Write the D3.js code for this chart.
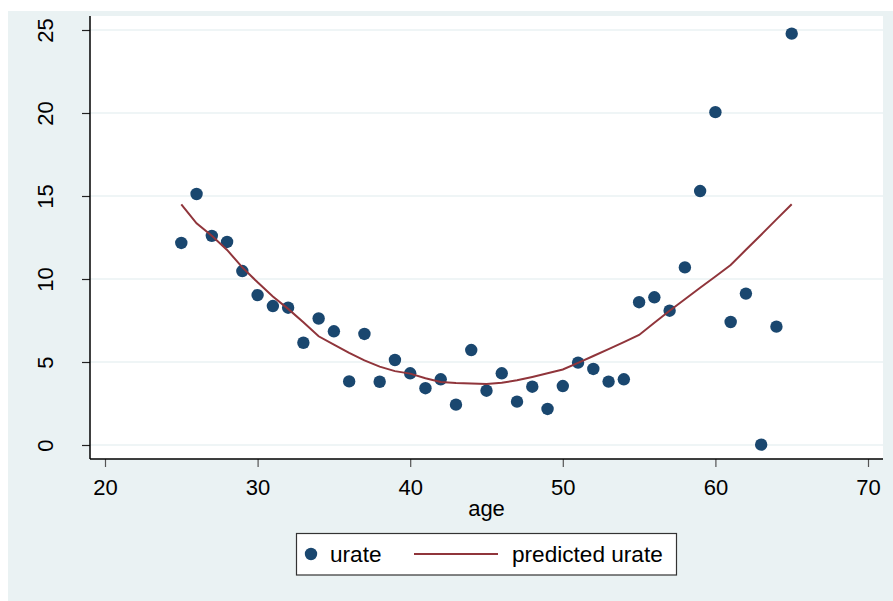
<!DOCTYPE html>
<html>
<head>
<meta charset="utf-8">
<script src="https://cdn.jsdelivr.net/npm/d3@7"></script>
<style>
  html, body { margin: 0; padding: 0; background: #ffffff; }
  svg { display: block; font-family: "Liberation Sans", Arial, sans-serif; }
</style>
</head>
<body>
<svg id="chart" width="893" height="601"></svg>
<script>
// Unemployment rate by age, with the fitted (predicted) rate
const ages = d3.range(25, 66);
const urate = [
  12.17, 15.12, 12.6, 12.23, 10.48, 9.03, 8.37, 8.27, 6.16, 7.62,
  6.85, 3.83, 6.69, 3.81, 5.12, 4.32, 3.42, 3.96, 2.43, 5.72,
  3.27, 4.32, 2.61, 3.51, 2.17, 3.55, 4.96, 4.58, 3.82, 3.96,
  8.6, 8.9, 8.09, 10.7, 15.3, 20.05, 7.41, 9.12, 0.02, 7.13,
  24.78
];
const predicted = [
  14.5, 13.35, 12.6, 11.75, 10.7, 9.8, 8.95, 8.2, 7.4, 6.55,
  6.05, 5.55, 5.1, 4.72, 4.45, 4.3, 4.02, 3.8, 3.73, 3.7,
  3.68, 3.75, 3.9, 4.1, 4.32, 4.55, 4.95, 5.36, 5.78, 6.2,
  6.63, 7.36, 8.09, 8.78, 9.47, 10.15, 10.84, 11.76, 12.67, 13.59,
  14.5
];
const xTicks = [20, 30, 40, 50, 60, 70];
const yTicks = [0, 5, 10, 15, 20, 25];

const svg = d3.select("#chart");
const navy = "#1a476f", maroon = "#90353b", bg = "#eaf2f3";

// graph region background
svg.append("rect").attr("x", 8).attr("y", 11).attr("width", 885).attr("height", 590).attr("fill", bg);

const plot = { left: 90, right: 883, top: 16, bottom: 459 };
svg.append("rect")
  .attr("x", plot.left).attr("y", plot.top)
  .attr("width", plot.right - plot.left).attr("height", plot.bottom - plot.top)
  .attr("fill", "#ffffff");

const x = d3.scaleLinear().domain([20, 70]).range([105, 868]);
const y = d3.scaleLinear().domain([0, 25]).range([445, 30]);

// horizontal grid
svg.append("g").selectAll("line").data(yTicks).join("line")
  .attr("x1", plot.left).attr("x2", plot.right)
  .attr("y1", d => y(d)).attr("y2", d => y(d))
  .attr("stroke", bg).attr("stroke-width", 1.6);

// y axis
const yAxis = svg.append("g").attr("transform", `translate(${plot.left},0)`)
  .call(d3.axisLeft(y).tickValues(yTicks).tickSize(8).tickFormat(d3.format("d")));
yAxis.select(".domain").remove();
yAxis.selectAll(".tick line").attr("stroke", "#222").attr("stroke-width", 1.2);
yAxis.selectAll(".tick text").remove();
yAxis.selectAll(".tick").append("text")
  .attr("transform", "translate(-45,0) rotate(-90)")
  .attr("text-anchor", "middle").attr("dy", "0.36em")
  .attr("fill", "#000").attr("font-size", 22)
  .attr("font-family", "Liberation Sans, Arial, sans-serif")
  .text(d => d);
svg.append("line").attr("x1", plot.left).attr("x2", plot.left)
  .attr("y1", plot.top).attr("y2", plot.bottom).attr("stroke", "#000").attr("stroke-width", 1.5);

// x axis
const xAxis = svg.append("g").attr("transform", `translate(0,${plot.bottom})`)
  .call(d3.axisBottom(x).tickValues(xTicks).tickSize(8).tickFormat(d3.format("d")));
xAxis.select(".domain").remove();
xAxis.selectAll(".tick line").attr("stroke", "#555").attr("stroke-width", 1.2);
xAxis.selectAll(".tick text").attr("y", 36).attr("dy", 0).attr("fill", "#000")
  .attr("font-size", 22).attr("font-family", "Liberation Sans, Arial, sans-serif");
svg.append("line").attr("x1", plot.left).attr("x2", plot.right)
  .attr("y1", plot.bottom).attr("y2", plot.bottom).attr("stroke", "#000").attr("stroke-width", 1.5);

svg.append("text").attr("x", (plot.left + plot.right) / 2).attr("y", 516)
  .attr("text-anchor", "middle").attr("font-size", 22).attr("fill", "#000").text("age");

// observed rates
svg.append("g").selectAll("circle").data(ages.map((a, i) => [a, urate[i]])).join("circle")
  .attr("cx", d => x(d[0])).attr("cy", d => y(d[1])).attr("r", 6.2).attr("fill", navy);

// fitted line
const line = d3.line().x(d => x(d[0])).y(d => y(d[1]));
svg.append("path").datum(ages.map((a, i) => [a, predicted[i]]))
  .attr("d", line).attr("fill", "none").attr("stroke", maroon).attr("stroke-width", 2);

// legend
const lg = svg.append("g");
lg.append("rect").attr("x", 296.5).attr("y", 533.5).attr("width", 380).attr("height", 41.5)
  .attr("fill", "#fff").attr("stroke", "#333").attr("stroke-width", 1.2);
lg.append("circle").attr("cx", 311).attr("cy", 554).attr("r", 6.2).attr("fill", navy);
lg.append("text").attr("x", 330).attr("y", 562).attr("font-size", 22.6).attr("fill", "#000").text("urate");
lg.append("line").attr("x1", 414).attr("x2", 498).attr("y1", 554).attr("y2", 554)
  .attr("stroke", maroon).attr("stroke-width", 2);
lg.append("text").attr("x", 512).attr("y", 562).attr("font-size", 22.6).attr("fill", "#000").text("predicted urate");
</script>
</body>
</html>
